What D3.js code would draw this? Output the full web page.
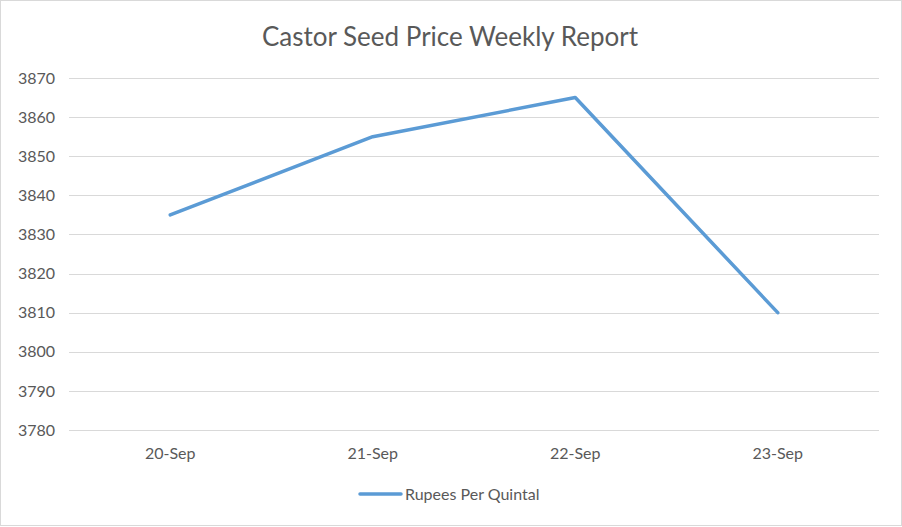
<!DOCTYPE html>
<html>
<head>
<meta charset="utf-8">
<script src="https://cdn.jsdelivr.net/npm/d3@7"></script>
<style>
  html, body { margin: 0; padding: 0; background: #fff; }
  svg { display: block; }
  text { font-family: "Lato", "Open Sans", sans-serif; fill: #595959; }
</style>
</head>
<body>
<svg id="chart" width="902" height="527"></svg>
<script>
const categories = ["20-Sep", "21-Sep", "22-Sep", "23-Sep"];
const values = [3835, 3855, 3865, 3810];
const yTicks = [3780, 3790, 3800, 3810, 3820, 3830, 3840, 3850, 3860, 3870];
const seriesName = "Rupees Per Quintal";
const title = "Castor Seed Price Weekly Report";

const W = 902, H = 527;
const margin = { left: 69, right: 23, top: 78, bottom: 97 };
const svg = d3.select("#chart");

svg.append("rect").attr("x", 0.5).attr("y", 0.5).attr("width", W - 1).attr("height", H - 2)
  .attr("fill", "#fff").attr("stroke", "#d9d9d9");

const x = d3.scaleBand().domain(categories).range([margin.left, W - margin.right]);
const y = d3.scaleLinear().domain([3780, 3870]).range([H - margin.bottom, margin.top]);

// gridlines
svg.append("g").selectAll("line").data(yTicks).join("line")
  .attr("x1", margin.left).attr("x2", W - margin.right)
  .attr("y1", d => Math.round(y(d)) + 0.5).attr("y2", d => Math.round(y(d)) + 0.5)
  .attr("stroke", "#d9d9d9").attr("stroke-width", 1);

// y axis labels
const yAxis = d3.axisLeft(y).tickValues(yTicks).tickSize(0).tickPadding(14).tickFormat(d3.format("d"));
const gy = svg.append("g").attr("transform", `translate(${margin.left},0)`).call(yAxis);
gy.select(".domain").remove();
gy.selectAll("text").attr("font-size", 16).style("fill", "#595959").attr("font-family", "Lato, sans-serif");

// x axis labels
const xAxis = d3.axisBottom(x).tickSize(0).tickPadding(18);
const gx = svg.append("g").attr("transform", `translate(0,${H - margin.bottom})`).call(xAxis);
gx.select(".domain").remove();
gx.selectAll("text").attr("font-size", 16).style("fill", "#595959").attr("font-family", "Lato, sans-serif");

// line
const line = d3.line()
  .x((d, i) => x(categories[i]) + x.bandwidth() / 2)
  .y(d => y(d));
svg.append("path").datum(values)
  .attr("d", line).attr("fill", "none")
  .attr("stroke", "#5b9bd5").attr("stroke-width", 3.5)
  .attr("stroke-linejoin", "round").attr("stroke-linecap", "round");

// title
svg.append("text").attr("x", 450).attr("y", 46).attr("text-anchor", "middle")
  .attr("font-size", 26).text(title);

// legend
const lg = svg.append("g");
lg.append("line").attr("x1", 360).attr("x2", 401).attr("y1", 494).attr("y2", 494)
  .attr("stroke", "#5b9bd5").attr("stroke-width", 3.5).attr("stroke-linecap", "round");
lg.append("text").attr("x", 405).attr("y", 500).attr("font-size", 16).text(seriesName);
</script>
</body>
</html>
